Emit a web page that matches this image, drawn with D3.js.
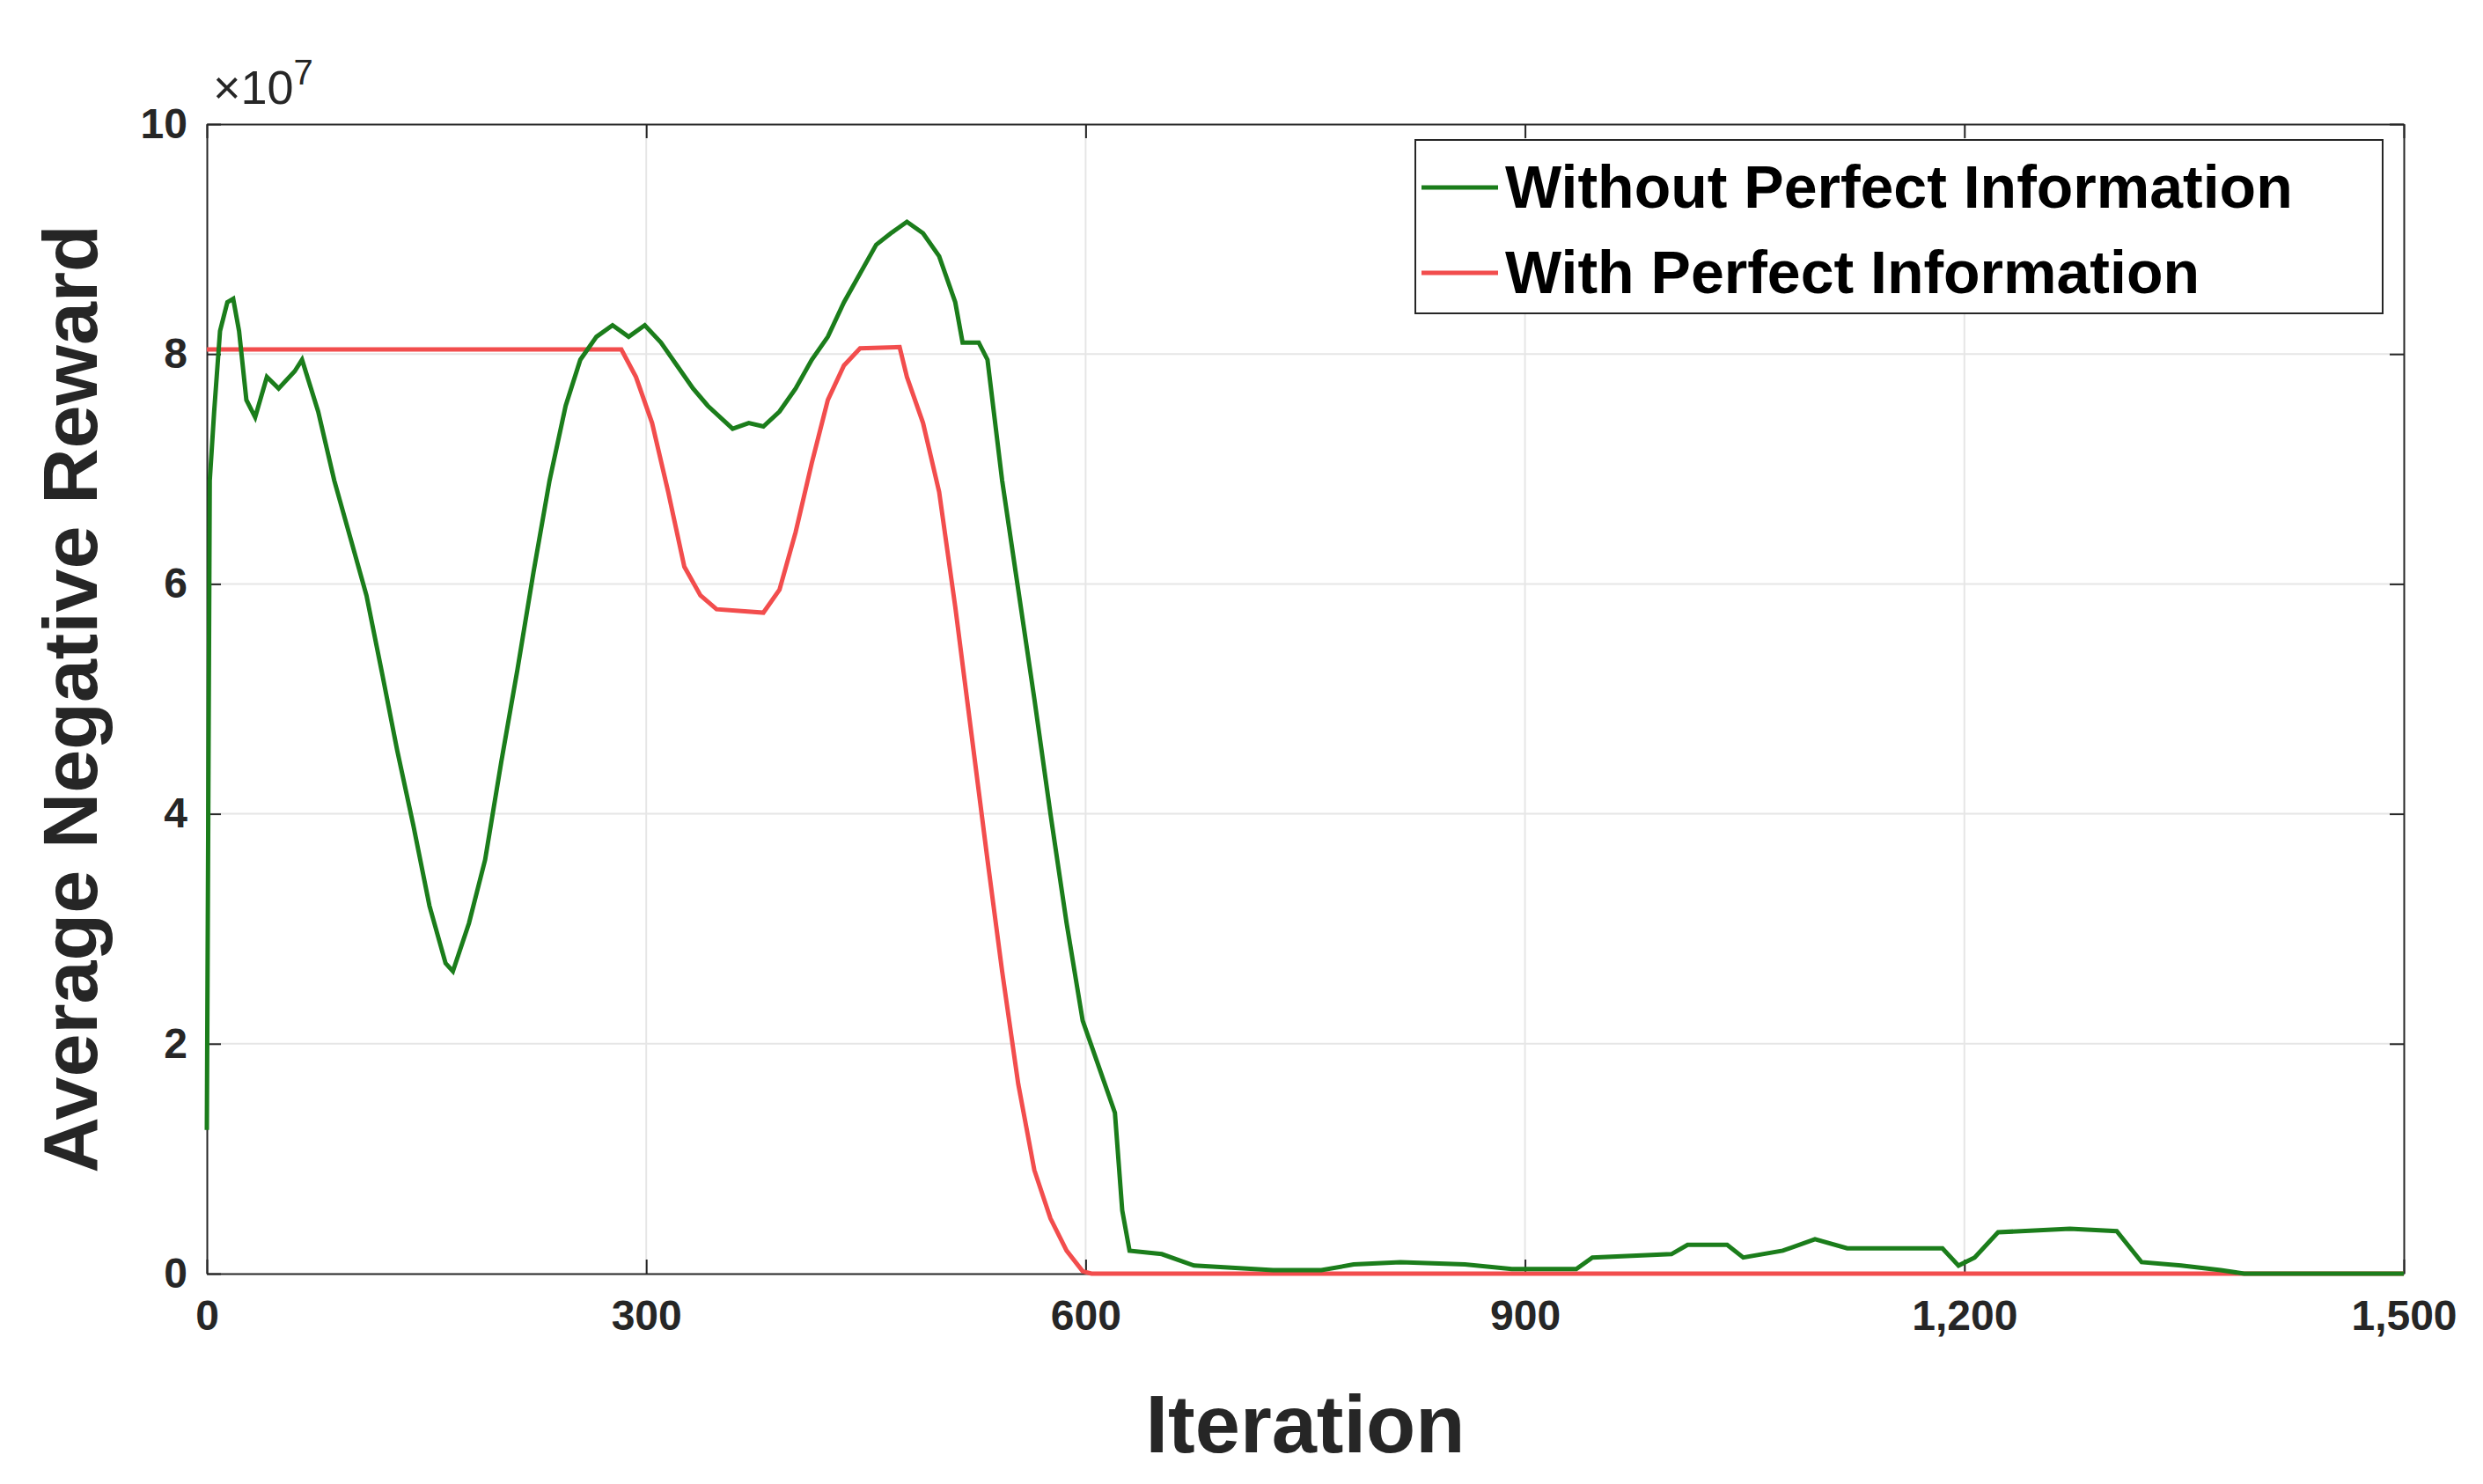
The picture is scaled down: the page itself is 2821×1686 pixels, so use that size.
<!DOCTYPE html>
<html><head><meta charset="utf-8">
<script src="https://cdn.jsdelivr.net/npm/d3@7"></script>
<style>body{margin:0;background:#fff}svg{display:block}text{font-family:"Liberation Sans",Arial,sans-serif;font-weight:bold;fill:#262626}</style>
</head><body>
<script>
const xTicks=[0,300,600,900,1200,1500];
const yTicks=[0,2,4,6,8,10];
const greenIter=[0,2,5,9,14,18,22,27,33,41,49,60,65,76,87,98,109,120,130,141,152,163,168,179,190,201,212,223,234,245,255,266,277,288,299,310,321,332,342,359,370,380,391,402,413,424,435,446,457,467,478,489,500,511,516,527,533,543,554,565,576,587,598,609,620,625,630,652,674,728,761,783,815,859,891,935,946,1000,1011,1038,1049,1076,1098,1120,1163,1185,1196,1207,1223,1272,1304,1321,1348,1375,1391,1500];
const greenVal=[1.25,6.9,7.5,8.2,8.45,8.48,8.2,7.6,7.45,7.8,7.7,7.85,7.95,7.5,6.9,6.4,5.9,5.2,4.55,3.9,3.2,2.7,2.63,3.05,3.6,4.45,5.25,6.1,6.9,7.55,7.95,8.15,8.25,8.15,8.25,8.1,7.9,7.7,7.55,7.35,7.4,7.37,7.5,7.7,7.95,8.15,8.45,8.7,8.95,9.05,9.15,9.05,8.85,8.45,8.1,8.1,7.95,6.9,5.95,5.0,4.0,3.05,2.2,1.8,1.4,0.55,0.2,0.17,0.07,0.03,0.03,0.08,0.1,0.08,0.04,0.04,0.14,0.17,0.25,0.25,0.14,0.2,0.3,0.22,0.22,0.22,0.07,0.14,0.36,0.39,0.37,0.1,0.07,0.03,0,0];
const redIter=[0,283,293,304,315,326,337,348,380,391,402,413,424,435,446,473,478,489,500,511,522,533,543,554,565,576,587,598,604,1500];
const redVal=[8.04,8.04,7.8,7.4,6.8,6.15,5.9,5.78,5.75,5.95,6.45,7.05,7.6,7.9,8.05,8.06,7.8,7.4,6.8,5.8,4.7,3.6,2.63,1.65,0.9,0.48,0.2,0.02,0,0];
const seriesNames=["Without Perfect Information","With Perfect Information"];
const colors=["#1b7d1b","#f24d4d"];

const W=2821,H=1686,L=235,R=2731,T=141,B=1447;
const svg=d3.select("body").append("svg").attr("width",W).attr("height",H);
const x=d3.scaleLinear().domain([0,1500]).range([L,R]);
const y=d3.scaleLinear().domain([0,10]).range([B,T]);
// grid
svg.append("g").selectAll("line").data(xTicks.slice(1,-1)).join("line").attr("x1",d=>x(d)).attr("x2",d=>x(d)).attr("y1",T).attr("y2",B).attr("stroke","#e6e6e6").attr("stroke-width",2);
svg.append("g").selectAll("line").data(yTicks.slice(1,-1)).join("line").attr("y1",d=>y(d)).attr("y2",d=>y(d)).attr("x1",L).attr("x2",R).attr("stroke","#e6e6e6").attr("stroke-width",2);
// axes
const ax=svg.append("g").attr("transform",`translate(0,${B})`).call(d3.axisBottom(x).tickValues(xTicks).tickSizeInner(-16).tickSizeOuter(0).tickPadding(30));
const ay=svg.append("g").attr("transform",`translate(${L},0)`).call(d3.axisLeft(y).tickValues(yTicks).tickSizeInner(-16).tickSizeOuter(0).tickPadding(22));
svg.append("g").attr("transform",`translate(0,${T})`).call(d3.axisTop(x).tickValues(xTicks).tickSizeInner(-16).tickSizeOuter(0).tickFormat(""));
svg.append("g").attr("transform",`translate(${R},0)`).call(d3.axisRight(y).tickValues(yTicks).tickSizeInner(-16).tickSizeOuter(0).tickFormat(""));
svg.selectAll(".domain,.tick line").attr("stroke","#262626").attr("stroke-width",2);
svg.selectAll(".tick text").style("font-size","48px").style("font-family","Liberation Sans").style("font-weight","bold").attr("fill","#262626");
// lines
const line=d3.line().x(d=>x(d[0])).y(d=>y(d[1]));
svg.append("path").datum(redIter.map((v,i)=>[v,redVal[i]])).attr("d",line).attr("fill","none").attr("stroke",colors[1]).attr("stroke-width",5);
svg.append("path").datum(greenIter.map((v,i)=>[v,greenVal[i]])).attr("d",line).attr("fill","none").attr("stroke",colors[0]).attr("stroke-width",5);
// labels
svg.append("text").attr("x",(L+R)/2).attr("y",1650).attr("text-anchor","middle").style("font-size","92px").text("Iteration");
svg.append("text").attr("transform",`translate(110,${(T+B)/2}) rotate(-90)`).attr("text-anchor","middle").style("font-size","88px").text("Average Negative Reward");
const ex=svg.append("text").attr("x",242).attr("y",118).style("font-size","54px").style("font-weight","normal");
ex.append("tspan").text("×10");ex.append("tspan").attr("dy",-22).style("font-size","40px").text("7");
// legend
const lg=svg.append("g");
lg.append("rect").attr("x",1608).attr("y",159).attr("width",1099).attr("height",197).attr("fill","#fff").attr("stroke","#262626").attr("stroke-width",2);
seriesNames.forEach((n,i)=>{const yy=213+i*97;
lg.append("line").attr("x1",1615).attr("x2",1702).attr("y1",yy).attr("y2",yy).attr("stroke",colors[i]).attr("stroke-width",5);
lg.append("text").attr("x",1710).attr("y",yy+23).style("font-size","68px").attr("fill","#000").style("fill","#000").text(n);});
</script>
</body></html>
